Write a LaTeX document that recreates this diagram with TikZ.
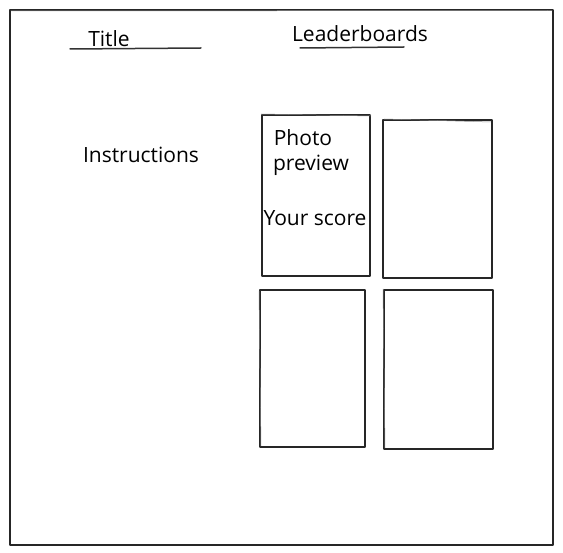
\documentclass[tikz,border=0pt]{standalone}
\usepackage{fontspec}
\setmainfont{Open Sans}
\begin{document}
\begin{tikzpicture}[x=1pt,y=-1pt,
  sketch/.style={draw=black!85, line width=1.2pt, line join=round},
  card/.style={sketch, rectangle, inner sep=0pt},
  label/.style={font=\fontsize{21}{24}\selectfont, inner sep=0pt, anchor=center},
  rule/.style={draw=black!80, line width=1.5pt, line cap=round}]
\useasboundingbox (0,0) rectangle (563,553);
% outer frame
\draw[sketch] (10,10) rectangle (553,545);
\draw[draw=black!40, line width=0.5pt] (11,11) -- (552,10.5);
% headings with underlines
\node[label] (title) at (109,39) {Title};
\draw[rule] (70,49) -- (201,48);
\node[label] (lead) at (360,34) {Leaderboards};
\draw[rule] (300,48) -- (404,47);
\node[label] (instr) at (141,155) {Instructions};
% leaderboard cards
\node[card, minimum width=108pt, minimum height=161pt] (c1) at (316,195.5) {};
\draw[draw=black!45, line width=0.5pt] (261,114) -- (371,116);
\node[card, minimum width=109pt, minimum height=158pt] (c2) at (437.5,199) {};
\draw[draw=black!45, line width=0.5pt] (384,119) -- (491,122);
\node[card, minimum width=105pt, minimum height=157pt] (c3) at (312.5,368.5) {};
\draw[draw=black!45, line width=0.5pt] (259,291) -- (261,446);
\node[card, minimum width=109pt, minimum height=159pt] (c4) at (438.5,369.5) {};
\draw[draw=black!45, line width=0.5pt] (383,289) -- (385,448);
% texts inside the first card
\node[label] (photo) at (303,138) {Photo};
\node[label] (preview) at (311,165) {preview};
\node[label] (score) at (315,218) {Your score};
\end{tikzpicture}
\end{document}
